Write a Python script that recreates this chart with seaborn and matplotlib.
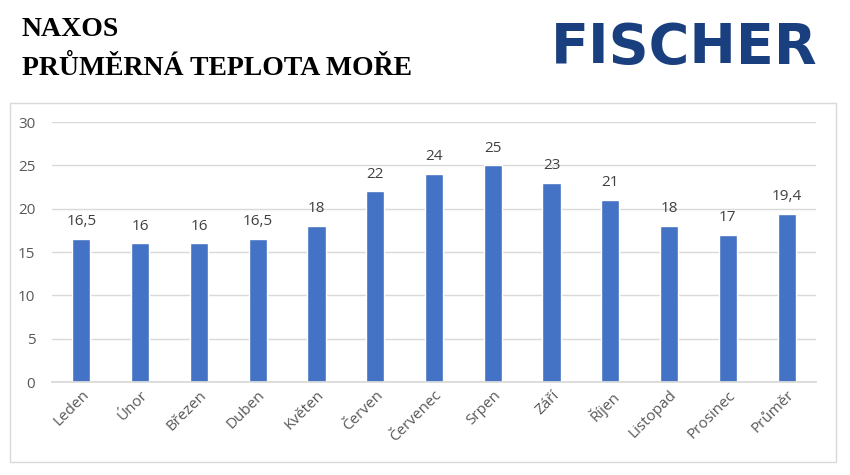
import matplotlib
matplotlib.use("Agg")
import matplotlib.pyplot as plt
import matplotlib.patches as patches
import pandas as pd
import seaborn as sns

# Data
months = ["Leden", "Únor", "Březen", "Duben", "Květen", "Červen", "Červenec",
          "Srpen", "Září", "Říjen", "Listopad", "Prosinec", "Průměr"]
temps = [16.5, 16, 16, 16.5, 18, 22, 24, 25, 23, 21, 18, 17, 19.4]
y_ticks = [0, 5, 10, 15, 20, 25, 30]

sns.set_theme(style="white")
plt.rcParams["font.family"] = ["Open Sans", "DejaVu Sans"]

df = pd.DataFrame({"month": months, "temp": temps})

fig = plt.figure(figsize=(8.5, 4.75), dpi=100)
fig.patch.set_facecolor("white")

# chart frame
frame = patches.Rectangle((10 / 850, 1 - 462 / 475), 826 / 850, 359 / 475,
                          transform=fig.transFigure, fill=False,
                          edgecolor="#d9d9d9", linewidth=1)
fig.add_artist(frame)

ax = fig.add_axes([52 / 850, 1 - 382 / 475, 764 / 850, 260 / 475])
sns.barplot(data=df, x="month", y="temp", color="#4472C4", width=0.31,
            saturation=1, ax=ax)

ax.set_ylim(0, 30)
ax.set_yticks(y_ticks)
ax.set_xlabel("")
ax.set_ylabel("")
ax.grid(axis="y", color="#d9d9d9", linewidth=1)
ax.set_axisbelow(True)
for side in ["top", "right", "left"]:
    ax.spines[side].set_visible(False)
ax.spines["bottom"].set_color("#d9d9d9")
ax.tick_params(axis="both", length=0, colors="#595959", labelsize=11)
ax.tick_params(axis="y", pad=12)
ax.tick_params(axis="x", pad=4)
plt.setp(ax.get_xticklabels(), rotation=45, ha="right", rotation_mode="anchor")

labels = [f"{v:g}".replace(".", ",") for v in temps]
ax.bar_label(ax.containers[0], labels=labels, padding=7, color="#404040",
             fontsize=11)

# titles
fig.text(22 / 850, 1 - 30 / 475, "NAXOS", fontsize=20, fontweight="bold",
         family="Liberation Serif", va="center", ha="left", color="black")
fig.text(22 / 850, 1 - 68 / 475, "PRŮMĚRNÁ TEPLOTA MOŘE", fontsize=20,
         fontweight="bold", family="Liberation Serif", va="center", ha="left",
         color="black")
fig.text(818 / 850, 1 - 48 / 475, "FISCHER", fontsize=40, fontweight="bold",
         family="DejaVu Sans", va="center", ha="right", color="#1a3f7f")

fig.savefig("out.png", dpi=100)
